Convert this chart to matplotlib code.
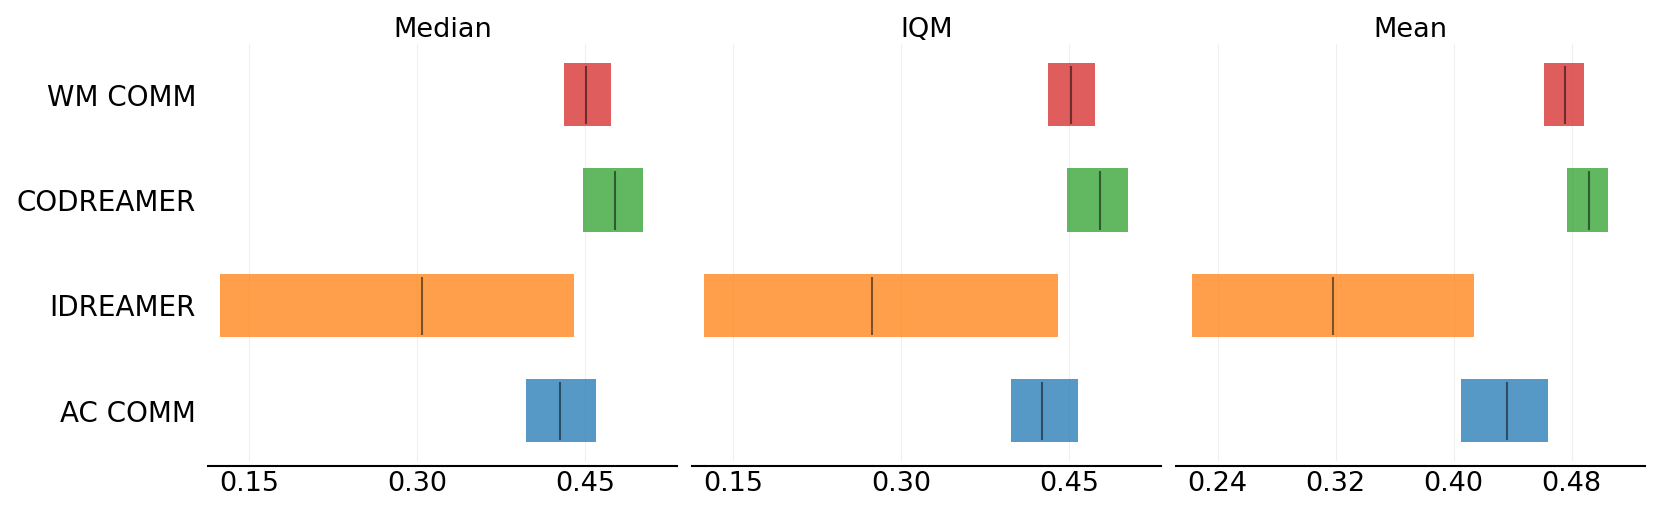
import matplotlib
matplotlib.use("Agg")
import matplotlib.pyplot as plt

algorithms = ["AC COMM", "IDREAMER", "CODREAMER", "WM COMM"]
colors = ["tab:blue", "tab:orange", "tab:green", "tab:red"]
metrics = ["Median", "IQM", "Mean"]

# per metric: lower, upper, point estimate for each algorithm (order as algorithms)
median_lower = [0.3976, 0.124, 0.448, 0.4315]
median_upper = [0.4595, 0.4399, 0.502, 0.473]
median_point = [0.428, 0.3047, 0.4768, 0.4512]

iqm_lower = [0.3976, 0.1244, 0.448, 0.4313]
iqm_upper = [0.4574, 0.4396, 0.5021, 0.4726]
iqm_point = [0.4253, 0.2744, 0.477, 0.4515]

mean_lower = [0.405, 0.2224, 0.477, 0.4614]
mean_upper = [0.4637, 0.414, 0.5048, 0.4886]
mean_point = [0.4359, 0.3184, 0.4917, 0.4755]

xticks = [[0.15, 0.30, 0.45], [0.15, 0.30, 0.45], [0.24, 0.32, 0.40, 0.48]]
xlims = [(0.1134, 0.532), (0.1139, 0.5319), (0.2117, 0.5297)]

lowers = [median_lower, iqm_lower, mean_lower]
uppers = [median_upper, iqm_upper, mean_upper]
points = [median_point, iqm_point, mean_point]

W, H = 1661, 514
fig = plt.figure(figsize=(W / 100, H / 100), dpi=100)
lefts_px = [208, 692.3, 1176]
width_px = 469
top_px, bot_px = 44, 461

h = 0.6
for m, name in enumerate(metrics):
    ax = fig.add_axes([lefts_px[m] / W, 1 - bot_px / H, width_px / W, (bot_px - top_px) / H])
    for i, alg in enumerate(algorithms):
        lo, hi = lowers[m][i], uppers[m][i]
        ax.barh(y=i, width=hi - lo, left=lo, height=h, color=colors[i], alpha=0.75)
        ax.vlines(x=points[m][i], ymin=i - 7.5 * h / 16, ymax=i + 7.3 * h / 16,
                  color="k", alpha=0.5, linewidth=1.5)
    ax.set_xlim(*xlims[m])
    ax.set_ylim(-0.477, 3.481)
    ax.set_xticks(xticks[m])
    ax.set_xticklabels([f"{t:.2f}" for t in xticks[m]])
    if m == 0:
        ax.set_yticks(range(len(algorithms)))
        ax.set_yticklabels(algorithms)
    else:
        ax.set_yticks([])
    ax.set_title(name, fontsize=19.5, pad=5)
    ax.spines["right"].set_visible(False)
    ax.spines["top"].set_visible(False)
    ax.spines["left"].set_visible(False)
    ax.spines["bottom"].set_linewidth(1.5)
    ax.spines["left"].set_position(("outward", 5))
    ax.spines["bottom"].set_position(("outward", 3.6))
    ax.tick_params(length=0.1, width=0.1, labelsize=19.5)
    ax.tick_params(axis="y", labelsize=20)
    ax.grid(True, axis="x", alpha=0.2)
    ax.set_axisbelow(True)

fig.savefig("out.png", dpi=100)
